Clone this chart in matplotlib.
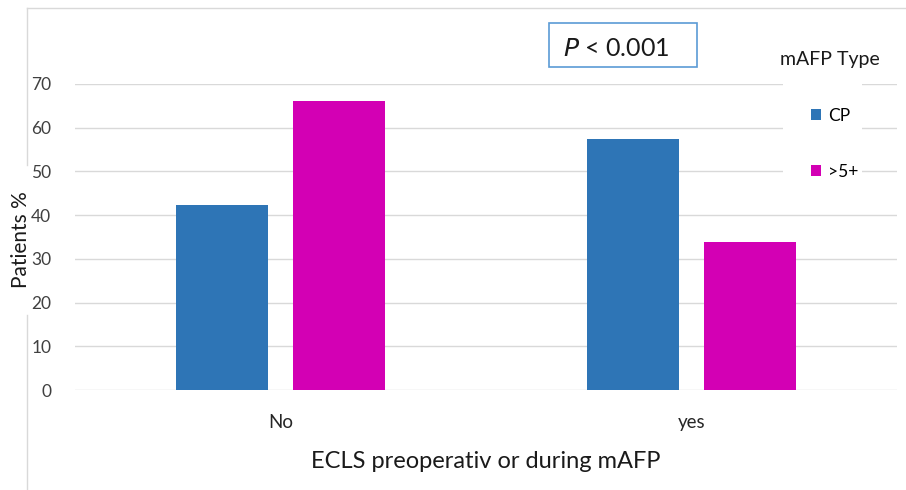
import numpy as np
import matplotlib.pyplot as plt
from matplotlib.patches import Rectangle, Patch
from matplotlib.lines import Line2D

categories = ['No', 'yes']
series_names = ['CP', '>5+']
cp_values = [42.3, 57.4]
gt5_values = [66.1, 33.9]
colors = ['#2E75B6', '#D300B4']

plt.rcParams['font.family'] = ['Lato', 'DejaVu Sans']

fig = plt.figure(figsize=(9.06, 4.9), dpi=100)
ax = fig.add_axes([75/906, 1 - 390/490, (897 - 75)/906, (390 - 84)/490])

x = np.arange(len(categories))
w = 0.224
off = 0.142
ax.bar(x - off, cp_values, w, color=colors[0], zorder=3)
ax.bar(x + off, gt5_values, w, color=colors[1], zorder=3)

ax.set_xlim(-0.5, 1.5)
ax.set_ylim(0, 70)
ax.set_yticks(range(0, 80, 10))
ax.yaxis.grid(True, color='#d9d9d9', linewidth=1, zorder=0)
ax.set_xticks(x)
ax.set_xticklabels(categories, fontsize=13.5, color='#262626')
ax.tick_params(axis='y', labelsize=12.5, labelcolor='#404040', length=0, pad=17)
ax.tick_params(axis='x', length=0, pad=17)
for s in ax.spines.values():
    s.set_visible(False)

ax.set_ylabel('Patients %', fontsize=15, color='#1a1a1a')
ax.yaxis.set_label_coords(-0.054, 0.49)
ax.set_xlabel('ECLS preoperativ or during mAFP', fontsize=17, color='#1a1a1a', labelpad=15)

# outer chart frame lines, left one broken around the y label
fx = 27/906
fig.add_artist(Line2D([fx, fx], [0, 1 - 315/490], color='#d9d9d9', lw=1))
fig.add_artist(Line2D([fx, fx], [1 - 165/490, 1 - 8/490], color='#d9d9d9', lw=1))
fig.add_artist(Line2D([fx, 1], [1 - 8/490, 1 - 8/490], color='#d9d9d9', lw=1))

# p-value box
fig.add_artist(Rectangle((549/906, 1 - 67/490), 148/906, 44/490, fill=False,
                         edgecolor='#5B9BD5', lw=1.2))
fig.text(616/906, 1 - 49/490, r'$\it{P}$ < 0.001', fontsize=18, ha='center', va='center',
         color='#1a1a1a')

# legend
fig.add_artist(Rectangle((783/906, 1 - 190/490), 79/906, 140/490, facecolor='white',
                         edgecolor='none', zorder=5))
fig.text(830/906, 1 - 60/490, 'mAFP Type', fontsize=14, ha='center', va='center',
         color='#1a1a1a', zorder=6)
handles = [Patch(facecolor=c) for c in colors]
leg = fig.legend(handles, series_names, loc='upper left', bbox_to_anchor=(795/906, 1 - 92/490),
                 frameon=False, fontsize=12.5, handlelength=0.6, handleheight=0.6,
                 handletextpad=0.4, labelspacing=2.3)
leg.set_zorder(7)

fig.savefig('out.png', dpi=100)
